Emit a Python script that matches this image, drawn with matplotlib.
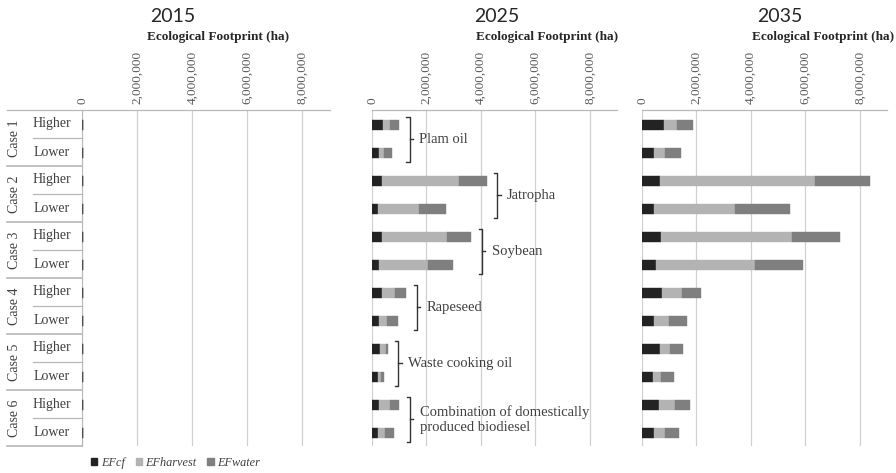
import numpy as np
import matplotlib
matplotlib.use("Agg")
import matplotlib.pyplot as plt
from matplotlib.lines import Line2D
from matplotlib.patches import Patch
from matplotlib.ticker import FuncFormatter
from matplotlib.transforms import blended_transform_factory

# Rows top to bottom: Case 1 Higher, Case 1 Lower, ... Case 6 Lower
cases = ["Case 1", "Case 2", "Case 3", "Case 4", "Case 5", "Case 6"]
levels = ["Higher", "Lower"]
years = ["2015", "2025", "2035"]
components = ["EFcf", "EFharvest", "EFwater"]
feedstocks = ["Plam oil", "Jatropha", "Soybean", "Rapeseed", "Waste cooking oil",
              "Combination of domestically\nproduced biodiesel"]

# Ecological footprint (ha)
ef_cf_2015 = [22000] * 12
ef_harvest_2015 = [10000] * 12
ef_water_2015 = [8000] * 12

ef_cf_2025 = [400000, 270000, 370000, 220000, 370000, 270000,
              370000, 240000, 310000, 210000, 270000, 210000]
ef_harvest_2025 = [270000, 160000, 2830000, 1490000, 2400000, 1800000,
                   480000, 310000, 200000, 120000, 400000, 280000]
ef_water_2025 = [310000, 300000, 1010000, 1000000, 870000, 900000,
                 400000, 390000, 60000, 120000, 330000, 300000]

ef_cf_2035 = [790000, 450000, 670000, 430000, 700000, 520000,
              730000, 450000, 650000, 400000, 630000, 430000]
ef_harvest_2035 = [510000, 400000, 5670000, 2980000, 4810000, 3630000,
                   750000, 530000, 390000, 310000, 590000, 400000]
ef_water_2035 = [570000, 590000, 2040000, 2040000, 1770000, 1760000,
                 690000, 670000, 450000, 450000, 550000, 520000]

series = {
    "2015": [ef_cf_2015, ef_harvest_2015, ef_water_2015],
    "2025": [ef_cf_2025, ef_harvest_2025, ef_water_2025],
    "2035": [ef_cf_2035, ef_harvest_2035, ef_water_2035],
}
colors = ["#232323", "#b3b3b3", "#7f7f7f"]
serif = "Liberation Serif"
grid_c = "#d0d0d0"
text_c = "#404040"

fig = plt.figure(figsize=(8.96, 4.73), dpi=100)
W, H = 896, 473


def fx(px):
    return px / W


def fy(px):
    return 1 - px / H


panel_px = [(82, 330), (372, 617), (642, 887)]
top_px, bot_px = 110, 446
label_px = [218, 547, 823]
title_px = [173, 497, 780]

n_rows = len(cases) * len(levels)
y = np.arange(n_rows) + 0.55
axes = []
for k, year in enumerate(years):
    x0, x1 = panel_px[k]
    ax = fig.add_axes([fx(x0), fy(bot_px), fx(x1 - x0), fy(top_px) - fy(bot_px)])
    left = np.zeros(n_rows)
    for vals, c in zip(series[year], colors):
        vals = np.array(vals, dtype=float)
        ax.barh(y, vals, left=left, height=0.36, color=c, edgecolor=c,
                linewidth=0.3, zorder=3)
        left += vals
    ax.set_xlim(0, 9e6)
    ax.set_ylim(n_rows, 0)
    ax.set_xticks([0, 2e6, 4e6, 6e6, 8e6])
    ax.xaxis.set_major_formatter(FuncFormatter(lambda v, p: f"{int(v):,}"))
    ax.xaxis.tick_top()
    ax.tick_params(axis="x", length=0, pad=4, labelrotation=90,
                   labelcolor="#595959", labelsize=9.5)
    for lab in ax.get_xticklabels():
        lab.set_family(serif)
    ax.set_yticks([])
    ax.grid(axis="x", color=grid_c, linewidth=0.9, zorder=0)
    for s in ["right", "bottom", "left"]:
        ax.spines[s].set_visible(False)
    ax.spines["top"].set_color("#b8b8b8")
    ax.spines["top"].set_linewidth(0.9)
    if k == 0:
        ax.spines["left"].set_visible(True)
        ax.spines["left"].set_color("#b8b8b8")
    fig.text(fx(title_px[k]), fy(16), year, family="Lato", fontsize=14,
             color="#262626", ha="center", va="center")
    fig.text(fx(label_px[k]), fy(37), "Ecological Footprint (ha)", family=serif,
             fontweight="bold", fontsize=9.5, color="#262626", ha="center",
             va="center")
    axes.append(ax)

# Category axis labels and separators on the first panel
ax0 = axes[0]
tr = blended_transform_factory(fig.transFigure, ax0.transData)
line_c = "#b8b8b8"
ax0.add_line(Line2D([fx(7), fx(82)], [0, 0], transform=tr, color=line_c,
                    lw=0.9, clip_on=False))
for i, case in enumerate(cases):
    ax0.text(fx(15), 2 * i + 1, case, transform=tr, rotation=90, family=serif,
             fontsize=10, color=text_c, ha="center", va="center")
    for j, lev in enumerate(levels):
        ax0.text(fx(52), 2 * i + j + 0.5, lev, transform=tr, family=serif,
                 fontsize=10, color=text_c, ha="center", va="center")
    ax0.add_line(Line2D([fx(33), fx(82)], [2 * i + 1] * 2, transform=tr,
                        color=line_c, lw=0.9, clip_on=False))
    ax0.add_line(Line2D([fx(7), fx(82)], [2 * i + 2] * 2, transform=tr,
                        color=line_c, lw=1.2, clip_on=False))

# Feedstock braces on the 2025 panel
ax1 = axes[1]
tot_2025 = np.sum(series["2025"], axis=0)
for i, name in enumerate(feedstocks):
    bx = max(tot_2025[2 * i], tot_2025[2 * i + 1]) + 0.4e6
    yt, yb = 2 * i + 0.25, 2 * i + 1.85
    ym = (yt + yb) / 2
    tick = 0.12e6
    ax1.plot([bx - tick, bx, bx, bx - tick], [yt, yt, yb, yb], color="#333333",
             lw=1.0, clip_on=False, zorder=4)
    ax1.plot([bx, bx + tick], [ym, ym], color="#333333", lw=1.0,
             clip_on=False, zorder=4)
    ax1.text(bx + 0.35e6, ym, name, family=serif, fontsize=10.5, color=text_c,
             ha="left", va="center", linespacing=1.15, zorder=5)

handles = [Patch(facecolor=c, edgecolor=c) for c in colors]
leg = fig.legend(handles, components, loc="center left",
                 bbox_to_anchor=(fx(86), fy(463)), ncol=3, frameon=False,
                 handlelength=0.5, handleheight=0.5, handletextpad=0.3,
                 columnspacing=0.9, borderaxespad=0,
                 prop={"family": serif, "style": "italic", "size": 8.8})
for t in leg.get_texts():
    t.set_color(text_c)

fig.savefig("out.png", dpi=100)
